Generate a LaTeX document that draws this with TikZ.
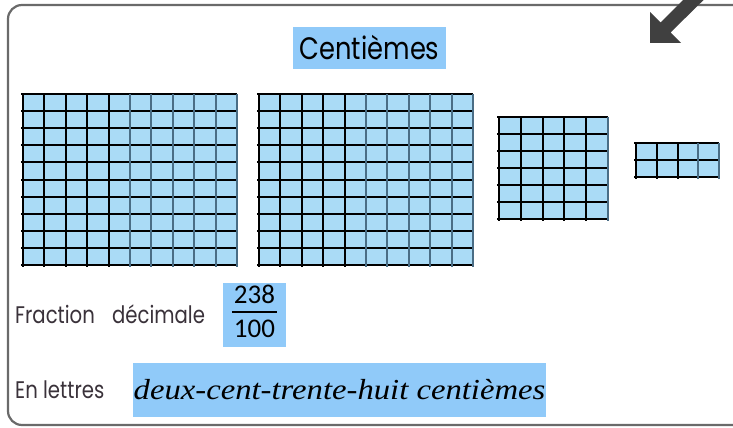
\documentclass[tikz,border=0pt]{standalone}
\usepackage{fontspec}
\setmainfont{Poppins}
\newfontfamily\numfont{Carlito}
\newfontfamily\cursivefont{Liberation Serif}
\definecolor{titleblue}{HTML}{90CAF9}
\definecolor{gridblue}{HTML}{AADBF6}
\definecolor{framegray}{HTML}{6A6A6A}
\definecolor{arrowgray}{HTML}{404040}
\definecolor{labelgray}{HTML}{3A323A}
\definecolor{vgray}{HTML}{4A6D85}
\tikzset{
  frame/.style={draw=framegray,line width=2.2pt,rounded corners=14pt},
  gridbox/.style={fill=gridblue,draw=none,inner sep=0pt,outer sep=0pt},
  hline/.style={draw=black,line width=1.7pt},
  vblack/.style={draw=black,line width=1.7pt},
  vgrayline/.style={draw=vgray,line width=1.7pt},
  titlebox/.style={fill=titleblue,inner sep=0pt,text=black},
  label/.style={text=labelgray,inner sep=0pt,anchor=base west,font=\fontsize{24}{26}\selectfont},
}
\newcommand\cgrid[8]{%
  \node[gridbox,minimum width=#4*#6,minimum height=#5*#7,anchor=north west] (#1) at (#2,#3) {};
  \pgfmathsetmacro\gxr{round(#2+#4*#6)}%
  \pgfmathsetmacro\gyb{round(#3+#5*#7)}%
  \pgfmathsetmacro\gyt{round(#3)}%
  \pgfmathsetmacro\gxl{round(#2)}%
  \foreach \r in {0,...,#5} {%
    \pgfmathsetmacro\yy{round(#3+\r*#7)}%
    \draw[hline] (\gxl-2,\yy) -- (\gxr,\yy);}
  \foreach \c in {0,...,#4} {%
    \pgfmathsetmacro\xx{round(#2+\c*#6)}%
    \ifnum\c<#8\relax
      \draw[vblack] (\xx,\gyt) -- (\xx,\gyb+2);
    \else
      \draw[vgrayline] (\xx,\gyt) -- (\xx,\gyb+2);
    \fi}%
}
\begin{document}
\begin{tikzpicture}[x=1pt,y=-1pt]
\useasboundingbox (0,0) rectangle (733,428);
\clip (0,0) rectangle (733,428);
\fill[white] (0,0) rectangle (733,428);
\draw[frame] (8,5) rectangle (790,425);
% title
\node[titlebox,minimum width=153,minimum height=42] (title) at (369.5,48)
  {\scalebox{0.83}[1]{\fontsize{31}{33}\selectfont Centièmes}};
% grids
\cgrid{g1}{23}{94}{10}{10}{21.4}{17.1}{5}
\cgrid{g2}{259}{94}{10}{10}{21.4}{17.1}{5}
\cgrid{g3}{499}{117}{5}{6}{21.8}{17}{5}
\cgrid{g4}{636}{143}{4}{2}{20.75}{17}{3}
% fraction
\node[label] (fraclabel) at (15,323) {\scalebox{0.82}[1]{Fraction\hspace{21pt}décimale}};
\node[titlebox,minimum width=63,minimum height=60] (frac) at (254.5,315)
  {\raisebox{-3pt}{\numfont\fontsize{27}{29}\selectfont\setlength{\arrayrulewidth}{1.5pt}%
   \begin{tabular}{@{\hspace{2pt}}c@{\hspace{2pt}}}238\\[-1pt]\hline\rule{0pt}{25pt}100\end{tabular}}};
% letters
\node[label] (letlabel) at (15,398) {\scalebox{0.82}[1]{En lettres}};
\node[titlebox,minimum width=413,minimum height=54] (letters) at (339.5,390)
  {\scalebox{1.127}[1]{\cursivefont\itshape\fontsize{29}{31}\selectfont deux-cent-trente-huit centièmes}};
% arrow
\fill[arrowgray] (650,43) -- (650,12) -- (660.5,22.5) -- (720,-37) -- (731,-27)
  -- (670.5,32.5) -- (681,43) -- cycle;
\end{tikzpicture}
\end{document}
